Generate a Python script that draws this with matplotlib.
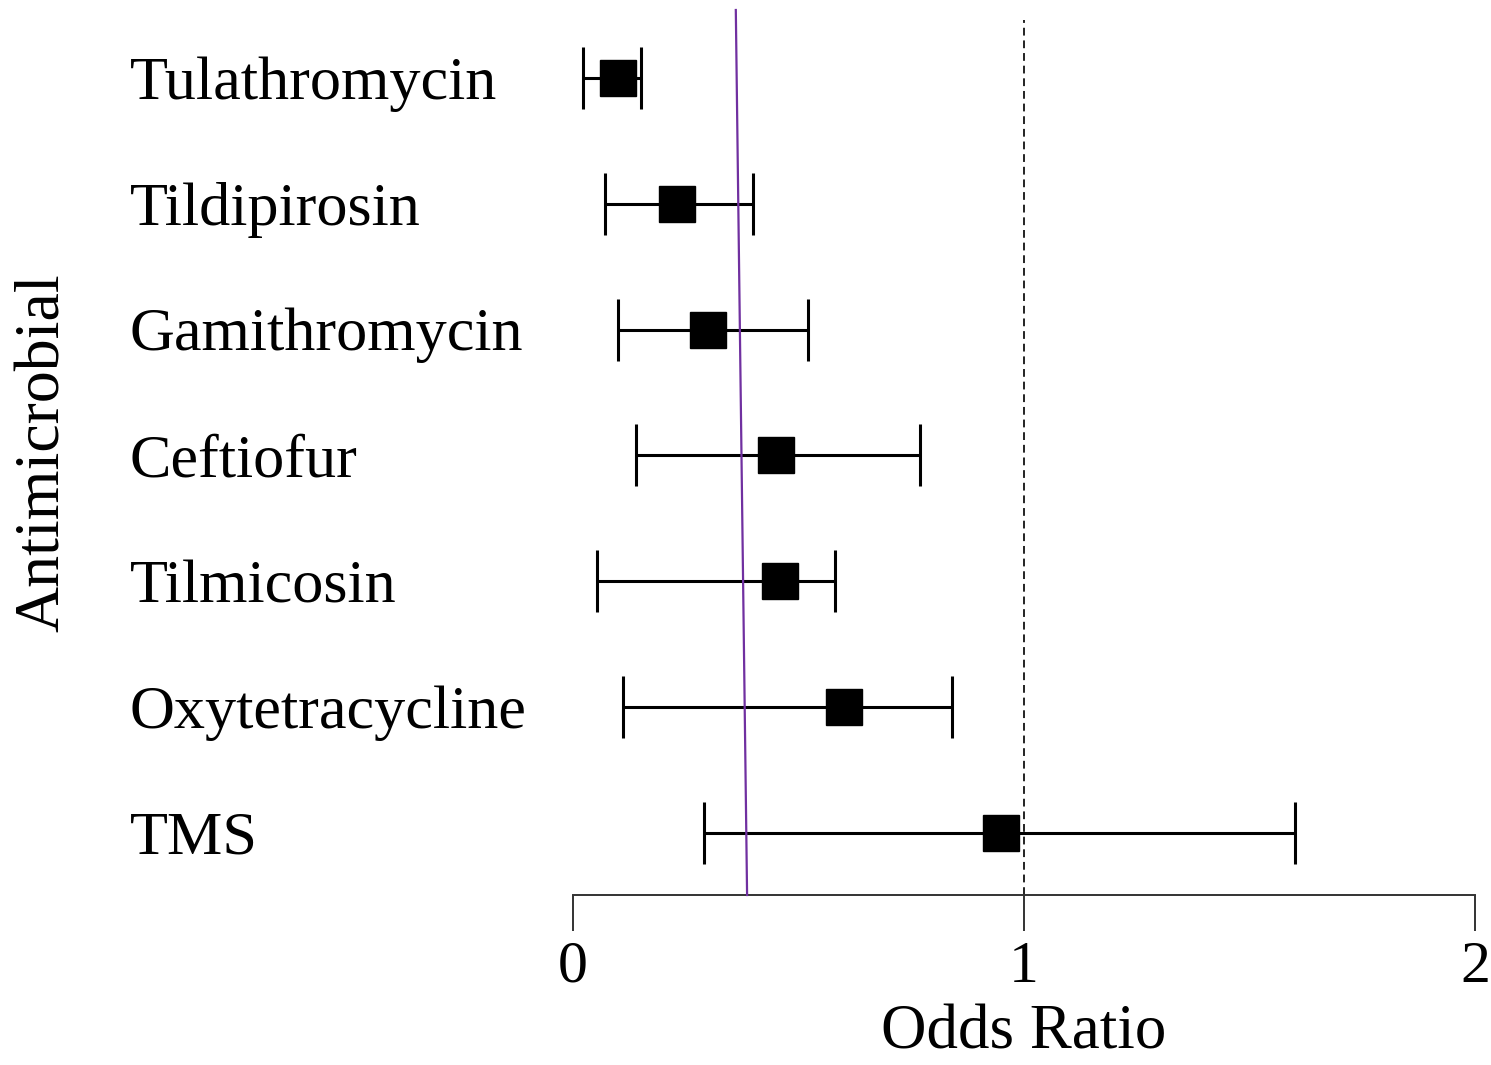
import matplotlib.pyplot as plt
import matplotlib.transforms as mtransforms

drugs = ['Tulathromycin', 'Tildipirosin', 'Gamithromycin', 'Ceftiofur',
         'Tilmicosin', 'Oxytetracycline', 'TMS']
odds = [0.10, 0.23, 0.30, 0.45, 0.46, 0.60, 0.95]
lower = [0.022, 0.071, 0.10, 0.14, 0.053, 0.11, 0.29]
upper = [0.15, 0.40, 0.52, 0.77, 0.58, 0.84, 1.60]
xticks = [0, 1, 2]

plt.rcParams['font.family'] = ['Liberation Serif', 'DejaVu Serif']

fig = plt.figure(figsize=(14.91, 10.65), dpi=100)
ax = fig.add_axes([573 / 1491, 1 - 895 / 1065, (1475 - 573) / 1491, (895 - 10) / 1065])

ypos = list(range(len(drugs), 0, -1))
xerr = [[o - l for o, l in zip(odds, lower)], [u - o for o, u in zip(odds, upper)]]
ax.errorbar(odds, ypos, xerr=xerr, fmt='s', color='black', ms=26,
            elinewidth=2.2, capsize=22.5, capthick=2.2, zorder=3)

ax.set_xlim(0, 2)
ax.set_ylim(0.507, 7.54)

# reference line at OR = 1
ax.plot([1, 1], [0.507, 7.46], ls=(0, (4, 2.5)), color='#222222', lw=1.4, zorder=1)
# slanted purple line
ax.plot([0.361, 0.386], [7.54, 0.507], color='#7030A0', lw=1.6, zorder=4, clip_on=False)

for s in ['top', 'right', 'left']:
    ax.spines[s].set_visible(False)
ax.spines['bottom'].set_linewidth(1.4)
ax.spines['bottom'].set_color('#333333')
ax.set_yticks([])
ax.set_xticks(xticks)
ax.set_xticklabels([str(t) for t in xticks], fontsize=43)
ax.tick_params(axis='x', length=26, width=1.4, color='#333333', pad=7)

trans = mtransforms.blended_transform_factory(fig.transFigure, ax.transData)
trans = trans + mtransforms.ScaledTranslation(0, -6 / 100, fig.dpi_scale_trans)
for name, y in zip(drugs, ypos):
    ax.text(130 / 1491, y, name, transform=trans, ha='left', va='center', fontsize=44.8)

ax.set_xlabel('Odds Ratio', fontsize=45.4, labelpad=7)
fig.text(44 / 1491, 1 - 453 / 1065, 'Antimicrobial', rotation=90, ha='center', va='center', fontsize=46)

fig.savefig('out.png', dpi=100)
